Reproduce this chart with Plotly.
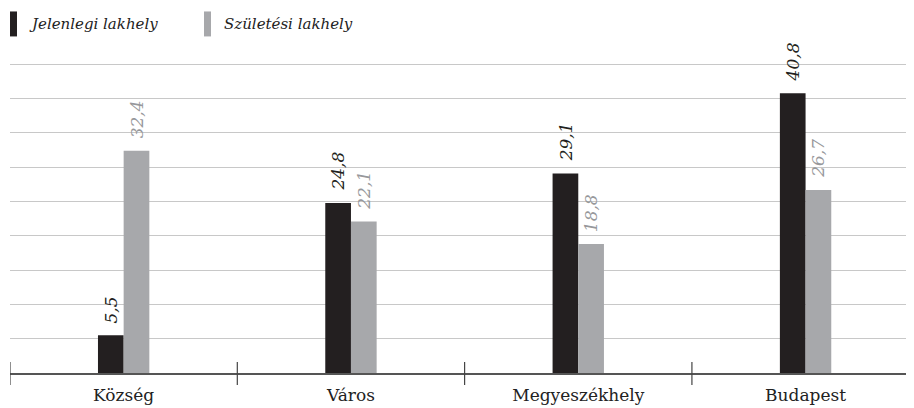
import plotly.graph_objects as go

categories = ["Község", "Város", "Megyeszékhely", "Budapest"]
jelenlegi = [5.5, 24.8, 29.1, 40.8]
szuletesi = [32.4, 22.1, 18.8, 26.7]
series_names = ["Jelenlegi lakhely", "Születési lakhely"]

BLACK = "#231f20"
GREY = "#a7a8ab"
GREY_TXT = "#97989b"
SERIF = "DejaVu Serif"

# the page body has an 8px margin, so the figure sits at (8, 8)
OFF = 8
Y_TOP = 45.2
W, H = 914 - OFF, 408 - OFF
ML, MR, MB = 10 - OFF, 0, 35
MT = round(64 - OFF - (Y_TOP - 45) * 309 / 45, 1)
PW, PH = W - ML - MR, H - MT - MB


def px_x(x):
    # page x -> paper coord
    return (x - OFF - ML) / PW


def px_y(y):
    # page y -> paper coord
    return (H - MB - (y - OFF)) / PH


def fmt(v):
    return f"{v:.1f}".replace(".", ",")


fig = go.Figure()
fig.add_trace(go.Bar(x=categories, y=jelenlegi, name=series_names[0],
                     marker=dict(color=BLACK, line=dict(width=0))))
fig.add_trace(go.Bar(x=categories, y=szuletesi, name=series_names[1],
                     marker=dict(color=GREY, line=dict(width=0))))

bar_w_px = 25.7
for vals, color, shift in [(jelenlegi, BLACK, -bar_w_px / 2), (szuletesi, GREY_TXT, bar_w_px / 2)]:
    for c, v in zip(categories, vals):
        fig.add_annotation(x=c, y=v, text=fmt(v), textangle=-90, showarrow=False,
                           xanchor="center", yanchor="bottom", xshift=shift, yshift=10,
                           font=dict(family=SERIF, size=17, color=color, style="italic"))

shapes = []
for b in [-0.5, 0.5, 1.5, 2.5]:
    shapes.append(dict(type="line", xref="x", yref="paper", x0=b, x1=b,
                       y0=px_y(385), y1=px_y(362),
                       line=dict(color="#444", width=1.2)))

legend_items = [(series_names[0], BLACK, 10, 27), (series_names[1], GREY, 204, 222)]
for name, color, sx, tx in legend_items:
    shapes.append(dict(type="rect", xref="paper", yref="paper",
                       x0=px_x(sx), x1=px_x(sx + 7), y0=px_y(36), y1=px_y(11),
                       line=dict(width=0), fillcolor=color))
    fig.add_annotation(text=name, xref="paper", yref="paper",
                       x=px_x(tx), y=px_y(23.5), xanchor="left", yanchor="middle",
                       showarrow=False,
                       font=dict(family=SERIF, size=15, color="#222", style="italic"))

fig.update_layout(
    width=W, height=H,
    margin=dict(l=ML, r=MR, t=MT, b=MB, pad=0),
    paper_bgcolor="white", plot_bgcolor="white",
    showlegend=False, shapes=shapes,
    barmode="group", bargap=0.774, bargroupgap=0,
    font=dict(family=SERIF, color="#222"),
    xaxis=dict(range=[-0.5, 3.477], showline=True, linecolor="#555", linewidth=1.5,
               ticks="", showgrid=False, automargin=False, ticklabelstandoff=6,
               tickfont=dict(family=SERIF, size=17, color="#222")),
    yaxis=dict(range=[0, Y_TOP], tickmode="array", tickvals=list(range(5, 50, 5)),
               showgrid=True, gridcolor="#c8c8c8", gridwidth=1,
               showticklabels=False, zeroline=False, ticks="", automargin=False),
)

fig.write_html("out.html")
